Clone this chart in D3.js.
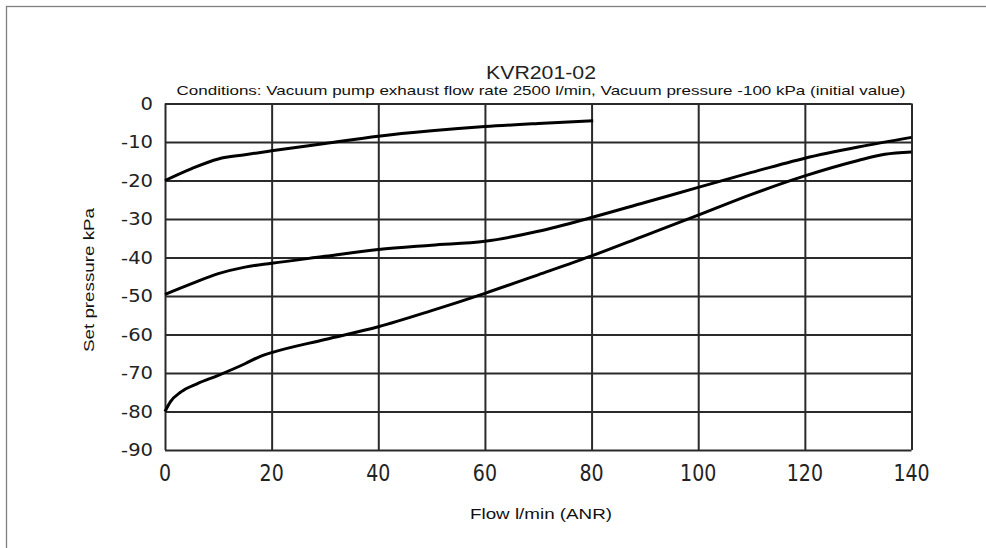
<!DOCTYPE html>
<html><head><meta charset="utf-8">
<script src="https://cdn.jsdelivr.net/npm/d3@7"></script>
<style>
html,body{margin:0;padding:0;background:#fff;}
svg{display:block;}
</style></head>
<body>
<svg id="c" width="986" height="548"></svg>
<script>
const titleText = "KVR201-02";
const subtitleText = "Conditions: Vacuum pump exhaust flow rate 2500 l/min, Vacuum pressure -100 kPa (initial value)";
const xLabel = "Flow l/min (ANR)";
const yLabel = "Set pressure kPa";
const xTicks = [0, 20, 40, 60, 80, 100, 120, 140];
const yTicks = [0, -10, -20, -30, -40, -50, -60, -70, -80, -90];

const curve1X = [0, 5, 10, 15, 20, 30, 40, 50, 60, 70, 80.3];
const curve1Y = [-20, -16.9, -14.4, -13.3, -12.3, -10.4, -8.5, -7.1, -6.0, -5.2, -4.5];
const curve2X = [0, 5, 10, 15, 20, 30, 40, 50, 60, 70, 80, 90, 100, 110, 120, 130, 140];
const curve2Y = [-49.6, -46.8, -44.2, -42.5, -41.5, -39.7, -37.9, -36.8, -35.8, -33.2, -29.6, -25.7, -21.8, -17.9, -14.2, -11.3, -8.8];
const curve3X = [0, 1, 3, 6, 10, 15, 18, 20, 30, 40, 50, 60, 70, 80, 90, 100, 110, 120, 130, 135, 140];
const curve3Y = [-80, -77.5, -74.9, -72.8, -70.6, -67.6, -65.6, -64.7, -61.3, -58.0, -53.8, -49.3, -44.5, -39.6, -34.3, -29.0, -23.6, -18.8, -14.8, -13.2, -12.6];

const svg = d3.select("#c");
const L = 165, R = 911.5, T = 103.5, B = 450;
const x = d3.scaleLinear().domain([0, 140]).range([L, R]);
const y = d3.scaleLinear().domain([-90, 0]).range([B, T]);

// outer frame
svg.append("rect").attr("x", 6.5).attr("y", 6.5).attr("width", 1000).attr("height", 1000)
  .attr("fill", "none").attr("stroke", "#808080").attr("stroke-width", 1.3);

// grid
const gc = "#2a2a2a";
const gx = svg.append("g").attr("transform", `translate(0,${B})`)
  .call(d3.axisBottom(x).tickValues(xTicks).tickSize(-(B - T)).tickFormat(""));
gx.select(".domain").remove();
gx.selectAll("line").attr("stroke", gc).attr("stroke-width", 2);
const gy = svg.append("g").attr("transform", `translate(${L},0)`)
  .call(d3.axisLeft(y).tickValues(yTicks).tickSize(-(R - L)).tickFormat(""));
gy.select(".domain").remove();
gy.selectAll("line").attr("stroke", gc).attr("stroke-width", 2);

// tick labels
const tf = "'DejaVu Sans', Verdana, sans-serif";
svg.append("g").selectAll("text").data(yTicks).join("text")
  .attr("transform", d => `translate(153,${y(d)}) scale(1.15,1)`)
  .attr("text-anchor", "end").attr("dy", "0.36em")
  .attr("font-family", tf).attr("font-size", 17).attr("fill", "#222")
  .text(d => d);
svg.append("g").selectAll("text").data(xTicks).join("text")
  .attr("transform", d => `translate(${x(d)},481) scale(1,1.2)`)
  .attr("text-anchor", "middle")
  .attr("font-family", tf).attr("font-size", 19).attr("fill", "#222")
  .text(d => d);

// titles
const af = "'Liberation Sans', Arial, sans-serif";
svg.append("text").attr("x", 541).attr("y", 78.5).attr("text-anchor", "middle")
  .attr("font-family", af).attr("font-size", 19).attr("fill", "#222")
  .attr("textLength", 110).attr("lengthAdjust", "spacingAndGlyphs").text(titleText);
svg.append("text").attr("x", 541).attr("y", 94.5).attr("text-anchor", "middle")
  .attr("font-family", af).attr("font-size", 13).attr("fill", "#111")
  .attr("textLength", 729).attr("lengthAdjust", "spacingAndGlyphs").text(subtitleText);
svg.append("text").attr("x", 541).attr("y", 519).attr("text-anchor", "middle")
  .attr("font-family", af).attr("font-size", 14.5).attr("fill", "#111")
  .attr("textLength", 142).attr("lengthAdjust", "spacingAndGlyphs").text(xLabel);
svg.append("text").attr("transform", "translate(94,280) rotate(-90)").attr("text-anchor", "middle")
  .attr("font-family", af).attr("font-size", 14.5).attr("fill", "#111")
  .attr("textLength", 144).attr("lengthAdjust", "spacingAndGlyphs").text(yLabel);

// curves
const line = d3.line().x(d => x(d[0])).y(d => y(d[1])).curve(d3.curveMonotoneX);
[[curve1X, curve1Y], [curve2X, curve2Y], [curve3X, curve3Y]].forEach(([xs, ys]) => {
  svg.append("path").datum(xs.map((v, i) => [v, ys[i]]))
    .attr("d", line).attr("fill", "none").attr("stroke", "#000")
    .attr("stroke-width", 3).attr("stroke-linejoin", "round");
});
</script>
</body></html>
